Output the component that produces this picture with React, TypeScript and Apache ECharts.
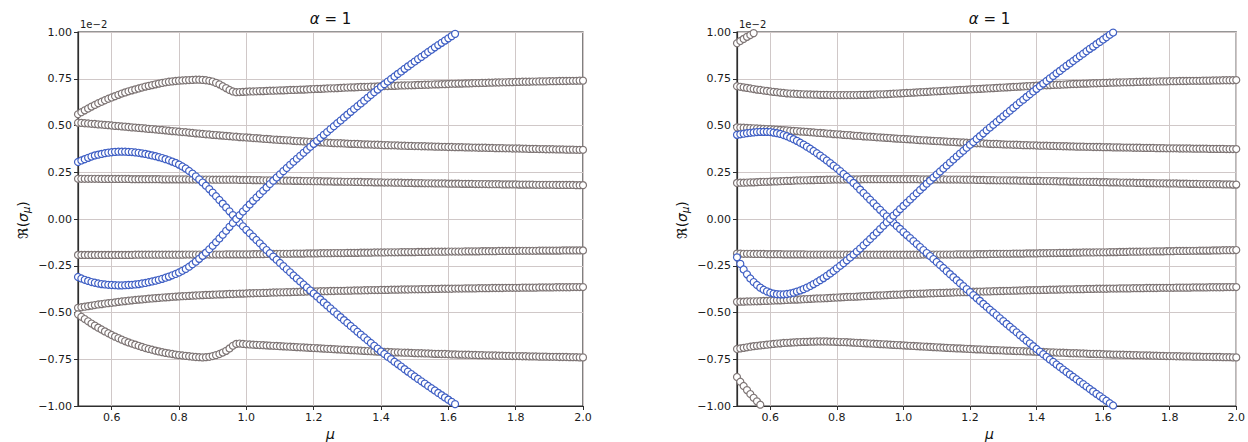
import React, { useEffect, useRef } from "react";
import * as echarts from "echarts";

// mu grid (x values shared by every curve)
const MU = [
  0.5, 0.51, 0.52, 0.53, 0.54, 0.55, 0.56, 0.57, 0.58, 0.59,
  0.6, 0.61, 0.62, 0.63, 0.64, 0.65, 0.66, 0.67, 0.68, 0.69,
  0.7, 0.71, 0.72, 0.73, 0.74, 0.75, 0.76, 0.77, 0.78, 0.79,
  0.8, 0.81, 0.82, 0.83, 0.84, 0.85, 0.86, 0.87, 0.88, 0.89,
  0.9, 0.91, 0.92, 0.93, 0.94, 0.95, 0.96, 0.97, 0.98, 0.99,
  1.0, 1.01, 1.02, 1.03, 1.04, 1.05, 1.06, 1.07, 1.08, 1.09,
  1.1, 1.11, 1.12, 1.13, 1.14, 1.15, 1.16, 1.17, 1.18, 1.19,
  1.2, 1.21, 1.22, 1.23, 1.24, 1.25, 1.26, 1.27, 1.28, 1.29,
  1.3, 1.31, 1.32, 1.33, 1.34, 1.35, 1.36, 1.37, 1.38, 1.39,
  1.4, 1.41, 1.42, 1.43, 1.44, 1.45, 1.46, 1.47, 1.48, 1.49,
  1.5, 1.51, 1.52, 1.53, 1.54, 1.55, 1.56, 1.57, 1.58, 1.59,
  1.6, 1.61, 1.62, 1.63, 1.64, 1.65, 1.66, 1.67, 1.68, 1.69,
  1.7, 1.71, 1.72, 1.73, 1.74, 1.75, 1.76, 1.77, 1.78, 1.79,
  1.8, 1.81, 1.82, 1.83, 1.84, 1.85, 1.86, 1.87, 1.88, 1.89,
  1.9, 1.91, 1.92, 1.93, 1.94, 1.95, 1.96, 1.97, 1.98, 1.99,
  2.0,
];

const X_TICKS = [0.6, 0.8, 1.0, 1.2, 1.4, 1.6, 1.8, 2.0];
const TITLE_SYMBOL = "α";
const TITLE_REST = " = 1";
const OFFSET_TEXT = "1e\u22122";

// ---------- left panel (values in units of 1e-2) ----------
const L_G1 = [
  .560, .571, .581, .591, .601, .610, .619, .627, .635, .643,
  .650, .657, .664, .671, .677, .683, .688, .693, .698, .703,
  .708, .712, .716, .720, .724, .728, .731, .734, .736, .738,
  .740, .741, .742, .743, .744, .745, .745, .744, .742, .739,
  .735, .728, .720, .710, .700, .690, .682, .678, .679, .680,
  .681, .682, .682, .683, .684, .684, .685, .686, .686, .687,
  .688, .688, .689, .690, .690, .691, .692, .692, .693, .694,
  .695, .696, .696, .697, .698, .699, .699, .700, .701, .702,
  .703, .704, .704, .705, .706, .706, .707, .708, .708, .709,
  .710, .711, .711, .712, .712, .713, .714, .714, .715, .715,
  .716, .717, .717, .718, .718, .719, .720, .720, .721, .721,
  .722, .723, .723, .724, .724, .725, .725, .726, .727, .727,
  .728, .728, .729, .729, .730, .730, .731, .731, .732, .732,
  .733, .733, .734, .734, .734, .735, .735, .736, .736, .736,
  .737, .737, .737, .738, .738, .738, .739, .739, .739, .740,
  .740,
];
const L_G2 = [
  .515, .514, .512, .511, .509, .508, .506, .505, .503, .502,
  .500, .498, .497, .495, .494, .492, .490, .489, .487, .486,
  .484, .482, .481, .479, .477, .476, .474, .472, .470, .469,
  .467, .465, .464, .462, .460, .458, .457, .455, .453, .452,
  .450, .449, .447, .446, .444, .443, .441, .440, .438, .437,
  .436, .435, .433, .432, .431, .429, .428, .427, .425, .424,
  .423, .422, .421, .420, .418, .417, .416, .415, .414, .413,
  .412, .411, .410, .409, .408, .407, .406, .405, .405, .404,
  .403, .402, .402, .401, .400, .399, .399, .398, .397, .397,
  .396, .395, .395, .394, .394, .393, .392, .392, .391, .391,
  .390, .390, .389, .389, .388, .388, .387, .387, .386, .386,
  .385, .385, .384, .384, .384, .383, .383, .382, .382, .381,
  .381, .381, .380, .380, .379, .379, .379, .378, .378, .377,
  .377, .377, .376, .376, .375, .375, .375, .374, .374, .373,
  .373, .373, .372, .372, .372, .371, .371, .371, .370, .370,
  .370,
];
const L_G3 = [
  .215, .215, .215, .215, .215, .215, .215, .214, .214, .214,
  .214, .214, .214, .214, .214, .214, .213, .213, .213, .213,
  .213, .213, .213, .213, .213, .212, .212, .212, .212, .212,
  .212, .212, .212, .211, .211, .211, .211, .211, .211, .211,
  .210, .210, .210, .210, .210, .210, .210, .210, .209, .209,
  .209, .209, .208, .208, .208, .207, .207, .207, .206, .206,
  .206, .205, .205, .205, .204, .204, .204, .203, .203, .203,
  .202, .202, .202, .201, .201, .201, .200, .200, .200, .199,
  .199, .199, .198, .198, .198, .197, .197, .197, .196, .196,
  .196, .195, .195, .195, .194, .194, .194, .193, .193, .193,
  .192, .192, .192, .191, .191, .191, .190, .190, .190, .190,
  .189, .189, .189, .189, .188, .188, .188, .188, .187, .187,
  .187, .187, .186, .186, .186, .186, .185, .185, .185, .185,
  .185, .184, .184, .184, .184, .184, .183, .183, .183, .183,
  .183, .183, .182, .182, .182, .182, .182, .182, .181, .181,
  .181,
];
const L_G4 = [
  -.192, -.192, -.192, -.192, -.192, -.192, -.192, -.192, -.192, -.192,
  -.192, -.192, -.192, -.192, -.192, -.192, -.192, -.191, -.191, -.191,
  -.191, -.191, -.191, -.191, -.191, -.191, -.191, -.191, -.191, -.191,
  -.191, -.191, -.190, -.190, -.190, -.190, -.190, -.190, -.190, -.190,
  -.190, -.190, -.190, -.190, -.189, -.189, -.189, -.189, -.189, -.189,
  -.189, -.189, -.188, -.188, -.188, -.188, -.187, -.187, -.187, -.187,
  -.186, -.186, -.186, -.186, -.185, -.185, -.185, -.185, -.184, -.184,
  -.184, -.184, -.183, -.183, -.183, -.183, -.182, -.182, -.182, -.182,
  -.181, -.181, -.181, -.181, -.180, -.180, -.180, -.180, -.179, -.179,
  -.179, -.179, -.178, -.178, -.178, -.178, -.177, -.177, -.177, -.177,
  -.177, -.176, -.176, -.176, -.176, -.175, -.175, -.175, -.175, -.175,
  -.174, -.174, -.174, -.174, -.174, -.173, -.173, -.173, -.173, -.173,
  -.172, -.172, -.172, -.172, -.172, -.171, -.171, -.171, -.171, -.171,
  -.171, -.170, -.170, -.170, -.170, -.170, -.170, -.169, -.169, -.169,
  -.169, -.169, -.169, -.169, -.168, -.168, -.168, -.168, -.168, -.168,
  -.168,
];
const L_G5 = [
  -.475, -.472, -.469, -.466, -.463, -.460, -.457, -.455, -.452, -.450,
  -.448, -.446, -.443, -.441, -.439, -.437, -.435, -.433, -.431, -.430,
  -.428, -.426, -.425, -.423, -.422, -.420, -.419, -.418, -.416, -.415,
  -.414, -.413, -.412, -.411, -.410, -.409, -.408, -.407, -.406, -.406,
  -.405, -.404, -.403, -.403, -.402, -.401, -.401, -.400, -.399, -.399,
  -.398, -.397, -.397, -.396, -.396, -.395, -.395, -.394, -.393, -.393,
  -.392, -.392, -.391, -.391, -.390, -.390, -.389, -.389, -.388, -.388,
  -.387, -.387, -.386, -.386, -.386, -.385, -.385, -.384, -.384, -.384,
  -.383, -.383, -.382, -.382, -.382, -.381, -.381, -.380, -.380, -.380,
  -.379, -.379, -.379, -.378, -.378, -.378, -.377, -.377, -.377, -.376,
  -.376, -.376, -.375, -.375, -.375, -.374, -.374, -.374, -.373, -.373,
  -.373, -.373, -.372, -.372, -.372, -.371, -.371, -.371, -.371, -.370,
  -.370, -.370, -.370, -.369, -.369, -.369, -.369, -.368, -.368, -.368,
  -.368, -.368, -.367, -.367, -.367, -.367, -.367, -.366, -.366, -.366,
  -.366, -.366, -.365, -.365, -.365, -.365, -.365, -.364, -.364, -.364,
  -.364,
];
const L_G6 = [
  -.510, -.523, -.535, -.547, -.559, -.570, -.581, -.591, -.601, -.611,
  -.620, -.629, -.637, -.645, -.653, -.660, -.666, -.672, -.678, -.684,
  -.690, -.695, -.699, -.704, -.708, -.712, -.716, -.719, -.722, -.725,
  -.728, -.730, -.732, -.734, -.736, -.738, -.739, -.740, -.739, -.737,
  -.733, -.728, -.722, -.714, -.705, -.692, -.678, -.668, -.666, -.668,
  -.670, -.671, -.672, -.673, -.674, -.675, -.676, -.677, -.678, -.679,
  -.680, -.681, -.682, -.683, -.684, -.685, -.686, -.687, -.688, -.689,
  -.690, -.691, -.692, -.693, -.694, -.695, -.696, -.697, -.698, -.699,
  -.700, -.701, -.702, -.703, -.704, -.705, -.706, -.707, -.708, -.709,
  -.710, -.711, -.711, -.712, -.713, -.713, -.714, -.715, -.715, -.716,
  -.717, -.718, -.718, -.719, -.719, -.720, -.721, -.721, -.722, -.722,
  -.723, -.724, -.724, -.725, -.725, -.726, -.726, -.727, -.727, -.728,
  -.728, -.729, -.729, -.730, -.730, -.731, -.731, -.732, -.732, -.733,
  -.733, -.733, -.734, -.734, -.735, -.735, -.735, -.736, -.736, -.736,
  -.737, -.737, -.737, -.738, -.738, -.738, -.739, -.739, -.739, -.740,
  -.740,
];
const L_B1 = [
  .305, .313, .320, .327, .334, .340, .344, .348, .352, .355,
  .357, .359, .360, .360, .360, .359, .358, .356, .354, .351,
  .348, .344, .340, .336, .331, .326, .320, .314, .307, .300,
  .291, .281, .270, .257, .243, .228, .212, .195, .178, .160,
  .141, .122, .102, .082, .062, .041, .021, .000, -.020, -.039,
  -.058, -.076, -.094, -.112, -.130, -.148, -.166, -.183, -.201, -.218,
  -.235, -.252, -.269, -.285, -.302, -.318, -.334, -.350, -.366, -.382,
  -.398, -.414, -.430, -.446, -.462, -.478, -.494, -.510, -.525, -.541,
  -.556, -.572, -.587, -.603, -.618, -.633, -.648, -.663, -.678, -.693,
  -.708, -.722, -.736, -.749, -.763, -.776, -.789, -.803, -.816, -.829,
  -.842, -.855, -.868, -.880, -.893, -.905, -.917, -.930, -.942, -.954,
  -.966, -.978, -.990, -1.002,
];
const L_B2 = [
  -.310, -.318, -.325, -.331, -.337, -.341, -.345, -.348, -.350, -.352,
  -.353, -.354, -.355, -.355, -.354, -.353, -.352, -.350, -.348, -.345,
  -.342, -.338, -.334, -.330, -.325, -.320, -.314, -.308, -.301, -.294,
  -.286, -.277, -.267, -.255, -.242, -.228, -.213, -.197, -.180, -.162,
  -.143, -.124, -.104, -.084, -.063, -.042, -.021, .000, .020, .040,
  .059, .078, .097, .115, .133, .151, .169, .187, .205, .222,
  .239, .256, .273, .290, .306, .322, .338, .354, .370, .386,
  .402, .418, .434, .450, .465, .481, .496, .512, .527, .543,
  .558, .573, .588, .603, .618, .633, .648, .663, .678, .692,
  .707, .721, .735, .749, .762, .776, .789, .803, .816, .829,
  .842, .855, .867, .880, .893, .905, .918, .930, .942, .954,
  .966, .978, .990, 1.002,
];

// ---------- right panel (values in units of 1e-2) ----------
const R_G1 = [
  .710, .707, .704, .701, .698, .695, .692, .690, .687, .685,
  .682, .680, .678, .676, .674, .672, .671, .670, .669, .668,
  .667, .666, .666, .665, .665, .664, .664, .664, .663, .663,
  .663, .663, .663, .663, .663, .663, .663, .664, .664, .664,
  .665, .665, .666, .667, .667, .668, .669, .670, .671, .672,
  .673, .674, .675, .676, .677, .678, .679, .680, .681, .682,
  .683, .684, .685, .686, .687, .688, .689, .690, .691, .692,
  .693, .694, .695, .696, .697, .698, .699, .700, .701, .702,
  .703, .704, .705, .706, .707, .708, .709, .710, .711, .712,
  .713, .714, .715, .715, .716, .717, .718, .718, .719, .720,
  .721, .722, .722, .723, .724, .724, .725, .726, .726, .727,
  .728, .728, .729, .729, .730, .730, .731, .731, .732, .732,
  .733, .733, .734, .734, .734, .735, .735, .736, .736, .736,
  .737, .737, .737, .738, .738, .738, .739, .739, .739, .739,
  .740, .740, .740, .741, .741, .741, .742, .742, .742, .742,
  .743,
];
const R_G2 = [
  .490, .489, .488, .487, .486, .485, .484, .483, .482, .481,
  .480, .479, .478, .476, .475, .474, .472, .471, .470, .468,
  .467, .466, .464, .463, .461, .460, .459, .457, .456, .454,
  .453, .452, .450, .449, .448, .446, .445, .444, .442, .441,
  .440, .439, .437, .436, .435, .434, .433, .431, .430, .429,
  .428, .427, .426, .425, .423, .422, .421, .420, .419, .418,
  .417, .416, .415, .414, .413, .412, .411, .410, .409, .408,
  .407, .406, .405, .405, .404, .403, .402, .401, .401, .400,
  .399, .398, .398, .397, .397, .396, .395, .395, .394, .394,
  .393, .392, .392, .392, .391, .391, .390, .390, .389, .389,
  .388, .388, .387, .387, .387, .386, .386, .385, .385, .385,
  .384, .384, .384, .383, .383, .383, .382, .382, .382, .381,
  .381, .381, .380, .380, .380, .380, .379, .379, .379, .378,
  .378, .378, .378, .377, .377, .377, .377, .376, .376, .376,
  .376, .376, .375, .375, .375, .375, .375, .374, .374, .374,
  .374,
];
const R_G3 = [
  .193, .194, .194, .195, .196, .196, .197, .198, .199, .199,
  .200, .201, .201, .202, .203, .204, .204, .205, .206, .206,
  .207, .207, .208, .208, .209, .209, .209, .210, .210, .211,
  .211, .211, .211, .212, .212, .212, .212, .212, .213, .213,
  .213, .213, .213, .213, .213, .213, .213, .213, .213, .213,
  .213, .213, .213, .213, .213, .212, .212, .212, .212, .212,
  .212, .212, .212, .211, .211, .211, .211, .211, .210, .210,
  .210, .210, .209, .209, .209, .208, .208, .208, .207, .207,
  .207, .207, .206, .206, .206, .205, .205, .205, .204, .204,
  .204, .204, .203, .203, .203, .202, .202, .201, .201, .201,
  .200, .200, .200, .199, .199, .199, .198, .198, .198, .197,
  .197, .197, .196, .196, .196, .195, .195, .194, .194, .194,
  .193, .193, .193, .192, .192, .192, .191, .191, .191, .190,
  .190, .190, .190, .189, .189, .189, .188, .188, .188, .187,
  .187, .187, .187, .186, .186, .186, .185, .185, .185, .184,
  .184,
];
const R_G4 = [
  -.185, -.185, -.186, -.186, -.186, -.187, -.187, -.187, -.187, -.188,
  -.188, -.188, -.188, -.188, -.189, -.189, -.189, -.189, -.189, -.189,
  -.189, -.190, -.190, -.190, -.190, -.190, -.190, -.190, -.190, -.190,
  -.190, -.190, -.190, -.191, -.191, -.191, -.191, -.191, -.191, -.191,
  -.191, -.191, -.191, -.191, -.191, -.191, -.191, -.191, -.191, -.191,
  -.191, -.191, -.191, -.191, -.191, -.191, -.190, -.190, -.190, -.190,
  -.190, -.190, -.190, -.190, -.190, -.190, -.189, -.189, -.189, -.189,
  -.189, -.189, -.188, -.188, -.188, -.188, -.187, -.187, -.187, -.186,
  -.186, -.186, -.186, -.185, -.185, -.185, -.185, -.184, -.184, -.184,
  -.184, -.183, -.183, -.183, -.182, -.182, -.182, -.181, -.181, -.181,
  -.181, -.180, -.180, -.180, -.179, -.179, -.179, -.179, -.178, -.178,
  -.178, -.178, -.177, -.177, -.177, -.176, -.176, -.176, -.175, -.175,
  -.175, -.175, -.174, -.174, -.174, -.173, -.173, -.173, -.173, -.172,
  -.172, -.172, -.171, -.171, -.171, -.171, -.170, -.170, -.170, -.169,
  -.169, -.169, -.169, -.168, -.168, -.168, -.167, -.167, -.167, -.167,
  -.166,
];
const R_G5 = [
  -.443, -.442, -.442, -.441, -.441, -.440, -.440, -.439, -.438, -.438,
  -.437, -.436, -.435, -.435, -.434, -.433, -.432, -.431, -.431, -.430,
  -.429, -.428, -.427, -.426, -.425, -.425, -.424, -.423, -.422, -.421,
  -.420, -.419, -.418, -.417, -.416, -.416, -.415, -.414, -.413, -.412,
  -.411, -.410, -.409, -.409, -.408, -.407, -.406, -.405, -.405, -.404,
  -.403, -.402, -.401, -.401, -.400, -.399, -.399, -.398, -.397, -.397,
  -.396, -.395, -.395, -.394, -.394, -.393, -.392, -.392, -.391, -.391,
  -.390, -.389, -.389, -.388, -.388, -.387, -.387, -.386, -.386, -.385,
  -.385, -.384, -.384, -.383, -.383, -.382, -.382, -.381, -.381, -.380,
  -.380, -.380, -.379, -.379, -.378, -.378, -.378, -.377, -.377, -.376,
  -.376, -.376, -.375, -.375, -.375, -.374, -.374, -.374, -.373, -.373,
  -.373, -.373, -.372, -.372, -.372, -.371, -.371, -.371, -.371, -.370,
  -.370, -.370, -.370, -.369, -.369, -.369, -.369, -.368, -.368, -.368,
  -.368, -.368, -.367, -.367, -.367, -.367, -.367, -.366, -.366, -.366,
  -.366, -.366, -.365, -.365, -.365, -.365, -.365, -.364, -.364, -.364,
  -.364,
];
const R_G6 = [
  -.695, -.692, -.689, -.686, -.683, -.680, -.678, -.676, -.674, -.672,
  -.670, -.668, -.666, -.665, -.663, -.662, -.661, -.660, -.659, -.658,
  -.657, -.657, -.656, -.656, -.655, -.655, -.655, -.655, -.656, -.656,
  -.657, -.658, -.658, -.659, -.660, -.661, -.662, -.663, -.664, -.665,
  -.666, -.667, -.668, -.669, -.670, -.671, -.672, -.673, -.674, -.675,
  -.676, -.677, -.678, -.679, -.680, -.681, -.682, -.683, -.684, -.685,
  -.686, -.687, -.688, -.689, -.690, -.691, -.692, -.692, -.693, -.694,
  -.695, -.696, -.697, -.697, -.698, -.699, -.700, -.701, -.701, -.702,
  -.703, -.704, -.704, -.705, -.706, -.706, -.707, -.708, -.708, -.709,
  -.710, -.711, -.711, -.712, -.713, -.713, -.714, -.715, -.715, -.716,
  -.717, -.718, -.718, -.719, -.719, -.720, -.721, -.721, -.722, -.722,
  -.723, -.724, -.724, -.725, -.725, -.726, -.726, -.727, -.727, -.728,
  -.728, -.729, -.729, -.730, -.730, -.731, -.731, -.732, -.732, -.733,
  -.733, -.733, -.734, -.734, -.735, -.735, -.735, -.736, -.736, -.736,
  -.737, -.737, -.737, -.738, -.738, -.738, -.739, -.739, -.739, -.740,
  -.740,
];
const R_G7 = [.940, .952, .963, .974, .984, .994, 1.004];
const R_G8 = [-.845, -.870, -.893, -.915, -.936, -.956, -.975, -.993, -1.011];
const R_B1 = [
  .450, .453, .456, .459, .461, .463, .465, .466, .466, .466,
  .465, .462, .459, .455, .449, .443, .435, .427, .418, .408,
  .398, .387, .376, .364, .352, .339, .326, .313, .299, .285,
  .271, .256, .241, .226, .210, .193, .175, .157, .139, .121,
  .103, .085, .067, .049, .031, .014, -.003, -.020, -.037, -.053,
  -.070, -.086, -.102, -.118, -.134, -.150, -.166, -.182, -.198, -.214,
  -.230, -.246, -.262, -.279, -.295, -.311, -.327, -.343, -.359, -.375,
  -.391, -.407, -.423, -.438, -.454, -.469, -.485, -.500, -.515, -.531,
  -.546, -.561, -.576, -.591, -.606, -.621, -.636, -.651, -.665, -.680,
  -.695, -.709, -.723, -.737, -.751, -.764, -.778, -.791, -.805, -.818,
  -.831, -.844, -.857, -.870, -.883, -.896, -.909, -.922, -.935, -.947,
  -.960, -.972, -.985, -.997, -1.010,
];
const R_B2 = [
  -.205, -.240, -.270, -.296, -.318, -.337, -.353, -.367, -.378, -.387,
  -.394, -.399, -.402, -.403, -.403, -.401, -.398, -.394, -.388, -.382,
  -.375, -.367, -.358, -.348, -.338, -.327, -.316, -.304, -.291, -.278,
  -.264, -.250, -.236, -.221, -.206, -.190, -.174, -.158, -.141, -.124,
  -.107, -.089, -.072, -.054, -.036, -.018, .000, .018, .035, .053,
  .070, .087, .104, .121, .138, .155, .172, .189, .205, .222,
  .238, .254, .270, .286, .302, .318, .334, .350, .365, .381,
  .397, .412, .428, .443, .458, .474, .489, .504, .519, .534,
  .549, .564, .579, .594, .609, .624, .638, .653, .667, .682,
  .696, .710, .724, .738, .752, .765, .779, .792, .806, .819,
  .832, .845, .858, .871, .884, .897, .910, .922, .935, .947,
  .960, .972, .985, .997, 1.010,
];

const LEFT_GRAY = [L_G1, L_G2, L_G3, L_G4, L_G5, L_G6];
const LEFT_BLUE = [L_B1, L_B2];
const RIGHT_GRAY = [R_G1, R_G2, R_G3, R_G4, R_G5, R_G6, R_G7, R_G8];
const RIGHT_BLUE = [R_B1, R_B2];

const GRAY = "#7e7575";
const BLUE = "#3f5fc4";
const FONT = "DejaVu Sans, Verdana, sans-serif";

const toPairs = (ys: number[]) => ys.map((y, i) => [MU[i], y]);

const scatter = (ys: number[], color: string, idx: number) => ({
  type: "scatter",
  xAxisIndex: idx,
  yAxisIndex: idx,
  data: toPairs(ys),
  symbol: "circle",
  symbolSize: 7,
  clip: true,
  silent: true,
  itemStyle: { color: "#ffffff", borderColor: color, borderWidth: 1.2, opacity: 1 },
});

const PLOT_LEFTS = [78, 737];
const PLOT_W = 505;
const PLOT_TOP = 32;
const PLOT_H = 374;

const fmtY = (v: number) => (v < 0 ? "\u2212" + Math.abs(v).toFixed(2) : v.toFixed(2));

export default function App() {
  const ref = useRef<HTMLDivElement>(null);
  useEffect(() => {
    if (!ref.current) return;
    const chart = echarts.init(ref.current, null, { renderer: "svg" });
    const grids = PLOT_LEFTS.map((l) => ({
      left: l,
      top: PLOT_TOP,
      width: PLOT_W,
      height: PLOT_H,
      show: true,
      borderColor: "#2e2e2e",
      borderWidth: 1.2,
      backgroundColor: "transparent",
    }));
    const xAxes = PLOT_LEFTS.map((_, i) => ({
      type: "value",
      gridIndex: i,
      min: 0.5,
      max: 2.0,
      axisLine: { show: true, onZero: false, lineStyle: { color: "#2e2e2e", width: 1.2 } },
      axisTick: { show: true, length: 4, customValues: X_TICKS, lineStyle: { color: "#2e2e2e" } },
      axisLabel: {
        customValues: X_TICKS,
        formatter: (v: number) => v.toFixed(1),
        color: "#1a1a1a",
        fontSize: 11,
        fontFamily: FONT,
        margin: 6,
      },
      splitLine: { show: true, lineStyle: { color: "#d0c8c8", width: 1 } },
    }));
    const yAxes = PLOT_LEFTS.map((_, i) => ({
      type: "value",
      gridIndex: i,
      min: -1,
      max: 1,
      interval: 0.25,
      axisLine: { show: true, onZero: false, lineStyle: { color: "#2e2e2e", width: 1.2 } },
      axisTick: { show: true, length: 4, lineStyle: { color: "#2e2e2e" } },
      axisLabel: { formatter: fmtY, color: "#1a1a1a", fontSize: 11, fontFamily: FONT, margin: 6 },
      splitLine: { show: true, lineStyle: { color: "#d0c8c8", width: 1 } },
    }));
    const series = [
      ...LEFT_GRAY.map((s) => scatter(s, GRAY, 0)),
      ...LEFT_BLUE.map((s) => scatter(s, BLUE, 0)),
      ...RIGHT_GRAY.map((s) => scatter(s, GRAY, 1)),
      ...RIGHT_BLUE.map((s) => scatter(s, BLUE, 1)),
    ];
    const graphics: any[] = [];
    PLOT_LEFTS.forEach((l) => {
      const cx = l + PLOT_W / 2;
      graphics.push({
        type: "text",
        x: cx,
        y: 19,
        style: {
          text: "{i|" + TITLE_SYMBOL + "}{n|" + TITLE_REST + "}",
          align: "center",
          verticalAlign: "middle",
          rich: {
            i: { fontSize: 15, fontStyle: "italic", fontFamily: FONT, fill: "#111" },
            n: { fontSize: 15, fontFamily: FONT, fill: "#111" },
          },
        },
      });
      graphics.push({
        type: "text",
        x: l + 2,
        y: 24,
        style: { text: OFFSET_TEXT, fontSize: 10, fontFamily: FONT, fill: "#1a1a1a", verticalAlign: "middle" },
      });
      graphics.push({
        type: "text",
        x: cx,
        y: 434,
        style: {
          text: "μ",
          fontSize: 14,
          fontStyle: "italic",
          fontFamily: FONT,
          fill: "#111",
          align: "center",
          verticalAlign: "middle",
        },
      });
      graphics.push({
        type: "text",
        x: l - 55,
        y: 220,
        rotation: Math.PI / 2,
        style: {
          text: "{a|ℜ(}{s|σ}{b|μ}{a|)}",
          align: "center",
          verticalAlign: "middle",
          rich: {
            a: { fontSize: 14, fontFamily: FONT, fill: "#111" },
            s: { fontSize: 14, fontStyle: "italic", fontFamily: FONT, fill: "#111" },
            b: { fontSize: 10, fontStyle: "italic", fontFamily: FONT, fill: "#111", padding: [7, 0, 0, 0] },
          },
        },
      });
    });
    chart.setOption({
      animation: false,
      backgroundColor: "#ffffff",
      grid: grids,
      xAxis: xAxes,
      yAxis: yAxes,
      series,
      graphic: graphics,
    });
    return () => chart.dispose();
  }, []);
  return (
    <div
      ref={ref}
      style={{ position: "absolute", left: 0, top: 0, width: 1248, height: 442 }}
    />
  );
}
